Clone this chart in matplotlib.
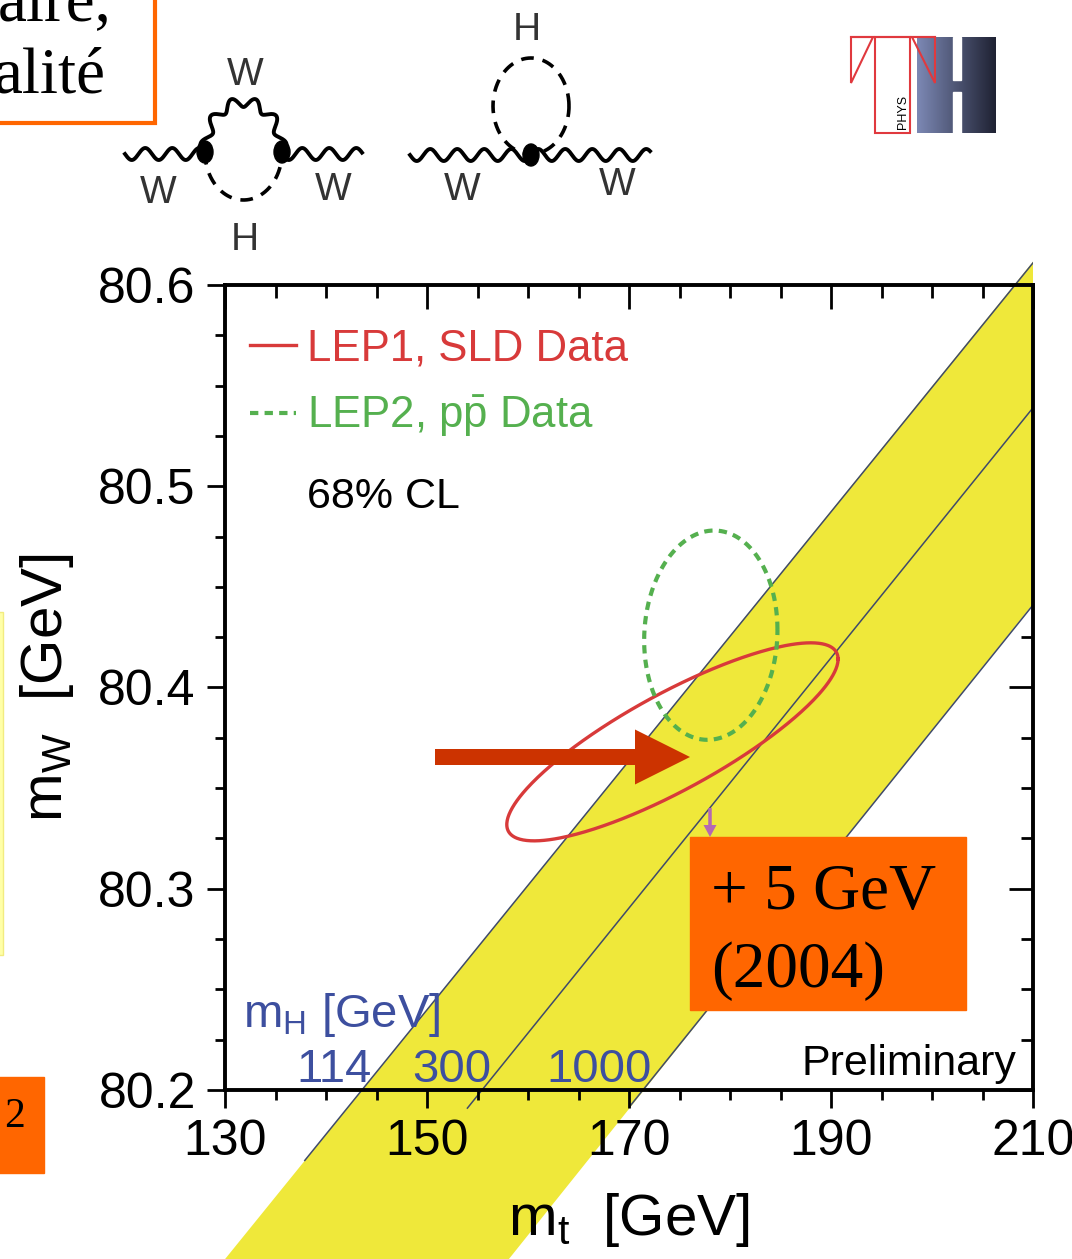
import numpy as np
import matplotlib
matplotlib.use("Agg")
import matplotlib.pyplot as plt
import matplotlib.patches as mpatches
from matplotlib.ticker import MultipleLocator

plt.rcParams["font.family"] = ["Liberation Sans", "DejaVu Sans"]
plt.rcParams["mathtext.fontset"] = "custom"
plt.rcParams["mathtext.rm"] = "Liberation Sans"
plt.rcParams["mathtext.it"] = "Liberation Sans:italic"

# --- data ---
mt_ticks = [130, 150, 170, 190, 210]
mw_ticks = [80.2, 80.3, 80.4, 80.5, 80.6]

# SM band, m_H = 114 ... 1000 GeV
band_mt = [120.0, 212.0]
band_upper = [80.054, 80.624]
band_lower = [79.877, 80.454]

mh_values = ["114", "300", "1000"]
mh_line_mt = [[137.9, 210.0], [154.0, 210.0], [170.1, 210.0]]
mh_line_mw = [[80.165, 80.611], [80.191, 80.539], [80.192, 80.441]]

# 68% CL contours: centre, half extents, correlation
lep1_center = (174.3, 80.373)
lep1_half = (16.4, 0.0492)
lep1_rho = 0.835
lep2_center = (178.1, 80.426)
lep2_half = (6.6, 0.052)
lep2_rho = 0.05

red = "#D83A3A"
green = "#55B04F"
blue = "#3D4F9F"
yellow = "#EFE83A"
orange = "#FF6600"


def contour(center, half, rho):
    t = np.linspace(0, 2 * np.pi, 400)
    x = center[0] + half[0] * np.cos(t)
    y = center[1] + half[1] * (rho * np.cos(t) + np.sqrt(1 - rho ** 2) * np.sin(t))
    return x, y


fig = plt.figure(figsize=(10.72, 12.59), dpi=100)
ax = fig.add_axes([225 / 1072, 1 - 1090 / 1259, 808 / 1072, 805 / 1259])

clip_rect = mpatches.Rectangle((0, -1), 1, 3, transform=ax.transAxes,
                               facecolor="none", edgecolor="none")

band = ax.fill_between(band_mt, band_lower, band_upper, color=yellow, lw=0, zorder=1)
band.set_clip_path(clip_rect)
for xs, ys in zip(mh_line_mt, mh_line_mw):
    ln, = ax.plot(xs, ys, color="#3F4A6B", lw=1.1, zorder=1.5)
    ln.set_clip_path(clip_rect)

x, y = contour(lep1_center, lep1_half, lep1_rho)
ax.plot(x, y, color=red, lw=2.4, label="LEP1, SLD Data", zorder=3)
x, y = contour(lep2_center, lep2_half, lep2_rho)
ax.plot(x, y, color=green, lw=3.0, dashes=(2.0, 1.5),
        label=r"LEP2, p$\bar{\mathrm{p}}$ Data", zorder=3)

ax.set_xlim(130, 210)
ax.set_ylim(80.2, 80.6)
ax.set_xticks(mt_ticks)
ax.set_yticks(mw_ticks)
ax.set_yticklabels([f"{v:.1f}" for v in mw_ticks])
ax.xaxis.set_minor_locator(MultipleLocator(5))
ax.yaxis.set_minor_locator(MultipleLocator(0.025))
ax.tick_params(which="major", direction="out", length=13, width=2, labelsize=36, pad=8)
ax.tick_params(which="minor", direction="out", length=7, width=2)
for s in ax.spines.values():
    s.set_linewidth(2.8)

top = ax.secondary_xaxis("top")
top.set_xticks(mt_ticks)
top.xaxis.set_minor_locator(MultipleLocator(5))
top.tick_params(which="major", direction="in", length=17, width=2, labeltop=False)
top.tick_params(which="minor", direction="in", length=9, width=2)
right = ax.secondary_yaxis("right")
right.set_yticks(mw_ticks)
right.yaxis.set_minor_locator(MultipleLocator(0.025))
right.tick_params(which="major", direction="in", length=17, width=2, labelright=False)
right.tick_params(which="minor", direction="in", length=9, width=2)

ax.set_xlabel(r"m$_{\mathrm{t}}$  [GeV]", fontsize=42)
ax.xaxis.set_label_coords(0.5, -0.125)
ax.set_ylabel(r"m$_{\mathrm{W}}$  [GeV]", fontsize=42)
ax.yaxis.set_label_coords(-0.185, 0.5)

leg = ax.legend(loc="upper left", bbox_to_anchor=(0.031, 0.946), frameon=False,
                fontsize=31.5, labelcolor="linecolor", handlelength=1.05,
                handletextpad=0.25, borderpad=0, borderaxespad=0, labelspacing=0.55)
ax.text(0.1015, 0.723, "68% CL", transform=ax.transAxes, fontsize=31, va="baseline")
ax.text(0.022, 0.078, r"m$_{\mathrm{H}}$ [GeV]", transform=ax.transAxes,
        fontsize=34, color=blue, va="baseline")
for lab, xf in zip(mh_values, [0.1349, 0.2809, 0.4629]):
    ax.text(xf, 0.010, lab, transform=ax.transAxes, fontsize=34, color=blue,
            ha="center", va="baseline")
ax.text(0.980, 0.0186, "Preliminary", transform=ax.transAxes, fontsize=31,
        ha="right", va="baseline")

# --- slide overlay in pixel coordinates ---
ov = fig.add_axes([0, 0, 1, 1], zorder=5)
ov.set_xlim(0, 1072)
ov.set_ylim(1259, 0)
ov.axis("off")
ov.patch.set_alpha(0)


def wavy(x0, x1, y0, amp=6, wl=27):
    xs = np.linspace(x0, x1, 300)
    ov.plot(xs, y0 + amp * np.sin(2 * np.pi * (xs - x0) / wl), color="k", lw=2.8)


# diagram 1
wavy(125, 205, 154)
wavy(282, 362, 154)
t = np.linspace(np.pi, 0, 300)
r = 5 * np.sin(11 * t)
ov.plot(243.5 + (38.5 + r) * np.cos(t), 152 - (50 + r) * np.sin(t), color="k", lw=2.8)
t = np.linspace(np.pi, 2 * np.pi, 200)
ov.plot(243.5 + 38.5 * np.cos(t), 152 - 48 * np.sin(t), color="k", lw=2.6, dashes=(3.5, 2.5))
for cx in (205, 282):
    ov.add_patch(mpatches.Ellipse((cx, 152), 16, 22, color="k"))
# diagram 2
wavy(410, 650, 155)
t = np.linspace(0, 2 * np.pi, 300)
ov.plot(531 + 38 * np.cos(t), 106 - 48 * np.sin(t), color="k", lw=2.6, dashes=(3.5, 2.5))
ov.add_patch(mpatches.Ellipse((531, 155), 16, 22, color="k"))
for s, (xx, yy) in zip(["W", "W", "W", "H", "H", "W", "W"],
                       [(245, 75), (158, 193), (333, 190), (245, 240), (527, 30), (462, 190), (617, 185)]):
    ov.text(xx, yy, s, fontsize=28, color="#333333", ha="center", va="center")

# logo
grad = np.linspace(0, 1, 100).reshape(1, -1)
cm = matplotlib.colors.LinearSegmentedColormap.from_list("g", ["#7C88B4", "#1F2233"])
ov.imshow(grad, extent=(917, 996, 133, 37), cmap=cm, aspect="auto", zorder=2)
ov.add_patch(mpatches.Rectangle((953, 37), 8, 43, color="white", zorder=3))
ov.add_patch(mpatches.Rectangle((953, 92), 8, 41, color="white", zorder=3))
lred = "#E0393E"
ov.plot([851, 935], [37, 37], color=lred, lw=1.5, zorder=4)
ov.add_patch(mpatches.Polygon([(851, 37), (873, 37), (851, 83)], closed=True,
                              fill=False, edgecolor=lred, lw=1.5, zorder=4))
ov.add_patch(mpatches.Rectangle((875, 37), 35, 96, fill=False, edgecolor=lred, lw=1.5, zorder=4))
ov.add_patch(mpatches.Polygon([(912, 37), (935, 37), (935, 83)], closed=True,
                              fill=False, edgecolor=lred, lw=1.5, zorder=4))
ov.text(903, 112, "PHYS", fontsize=9, rotation=90, ha="center", va="center", zorder=4)
ov.set_xlim(0, 1072)
ov.set_ylim(1259, 0)

# slide boxes
ov.add_patch(mpatches.Rectangle((-20, -20), 175, 143, facecolor="white", edgecolor=orange, lw=3))
ov.text(112, 20, "aire,", family="Liberation Serif", fontsize=47, ha="right", va="baseline")
ov.text(106, 92, "alité", family="Liberation Serif", fontsize=47, ha="right", va="baseline")
ov.add_patch(mpatches.Rectangle((-5, 612), 8, 343, facecolor="#FFFFA8", edgecolor="#F2EC80", lw=1))
ov.add_patch(mpatches.Rectangle((-5, 1077), 49, 96, color=orange))
ov.text(4, 1127, "2", family="Liberation Serif", fontsize=30, va="baseline")
ov.add_patch(mpatches.Rectangle((690, 837), 276, 173, color=orange))
ov.text(711, 909, "+ 5 GeV", family="Liberation Serif", fontsize=47, va="baseline")
ov.text(711, 987, "(2004)", family="Liberation Serif", fontsize=47, va="baseline")

# arrows
ov.add_patch(mpatches.FancyArrow(435, 757, 255, 0, width=16, head_width=55, head_length=55,
                                 length_includes_head=True, color="#CC3300", lw=0))
ov.add_patch(mpatches.FancyArrow(710, 808, 0, 29, width=3.5, head_width=13, head_length=12,
                                 length_includes_head=True, color="#B468B4", lw=0))

fig.savefig("out.png", dpi=100)
